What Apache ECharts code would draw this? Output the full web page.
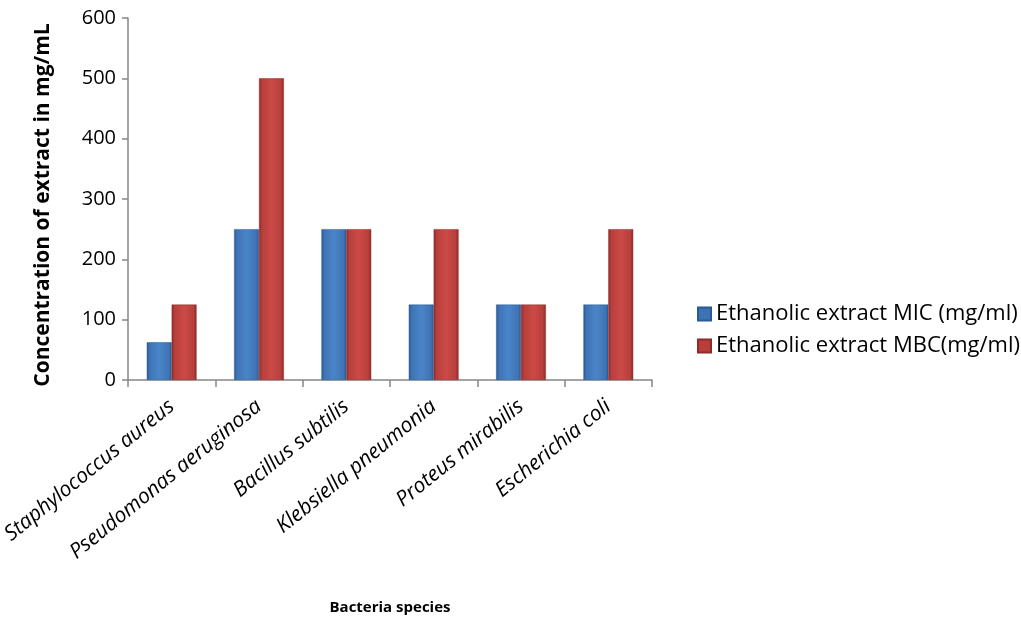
<!DOCTYPE html>
<html><head><meta charset="utf-8">
<script src="https://cdn.jsdelivr.net/npm/echarts@6/dist/echarts.min.js"></script>
<style>html,body{margin:0;padding:0;background:#fff}#c{width:1021px;height:637px}</style>
</head><body><div id="c"></div>
<script>
const categories = ["Staphylococcus aureus","Pseudomonas aeruginosa","Bacillus subtilis","Klebsiella pneumonia","Proteus mirabilis","Escherichia coli"];
const micValues = [62.5, 250, 250, 125, 125, 125];
const mbcValues = [125, 500, 250, 250, 125, 250];
const yTicks = [0,100,200,300,400,500,600];
const seriesNames = ["Ethanolic extract MIC (mg/ml)","Ethanolic extract MBC(mg/ml)"];

const font = "'Open Sans', Lato, sans-serif";
function grad(dark, mid, light){
  return new echarts.graphic.LinearGradient(0,0,1,0,[
    {offset:0,color:dark},{offset:0.12,color:mid},{offset:0.5,color:light},{offset:0.88,color:mid},{offset:1,color:dark}]);
}
const blue = grad('#2a5a94','#3f74b5','#4a85c9');
const red = grad('#8e2a28','#b63f3c','#cc4a47');
const chart = echarts.init(document.getElementById('c'));
chart.setOption({
  animation:false,
  grid:{left:128,top:18,right:369,bottom:257,containLabel:false,outerBoundsMode:'none'},
  legend:{
    orient:'vertical', left:692, top:298, itemGap:10, itemWidth:13, itemHeight:13,
    textStyle:{fontFamily:font,fontSize:22,color:'#000'},
    data:[{name:seriesNames[0],icon:'rect',itemStyle:{color:'#3d72b3'}},{name:seriesNames[1],icon:'rect',itemStyle:{color:'#b83e3b'}}]
  },
  xAxis:{
    type:'category', data:categories, name:'Bacteria species', nameLocation:'middle', nameGap:220,
    nameTextStyle:{fontFamily:font,fontSize:15,fontWeight:'bold',color:'#000'},
    axisLine:{lineStyle:{color:'#868686',width:1.5}},
    axisTick:{show:true,alignWithLabel:false,length:7,lineStyle:{color:'#868686',width:1.5}},
    axisLabel:{rotate:39,interval:0,fontFamily:font,fontSize:21,fontStyle:'italic',color:'#000',margin:24}
  },
  yAxis:{
    type:'value', min:0, max:600, interval:100,
    name:'Concentration of extract in mg/mL', nameLocation:'middle', nameGap:74,
    nameTextStyle:{fontFamily:font,fontSize:21,fontWeight:'bold',color:'#000',padding:[0,12,0,0]},
    axisLine:{show:true,lineStyle:{color:'#868686',width:1.5}},
    axisTick:{show:true,length:6,lineStyle:{color:'#868686',width:1.5}},
    splitLine:{show:false},
    axisLabel:{fontFamily:font,fontSize:20,color:'#000',margin:12,formatter:v=>yTicks.includes(v)?String(v):''}
  },
  series:[
    {name:seriesNames[0],type:'bar',data:micValues,barGap:'0%',barCategoryGap:'43%',itemStyle:{color:blue,borderColor:'#2a5a94',borderWidth:0.5}},
    {name:seriesNames[1],type:'bar',data:mbcValues,barGap:'0%',barCategoryGap:'43%',itemStyle:{color:red,borderColor:'#8e2a28',borderWidth:0.5}}
  ]
});
</script></body></html>
